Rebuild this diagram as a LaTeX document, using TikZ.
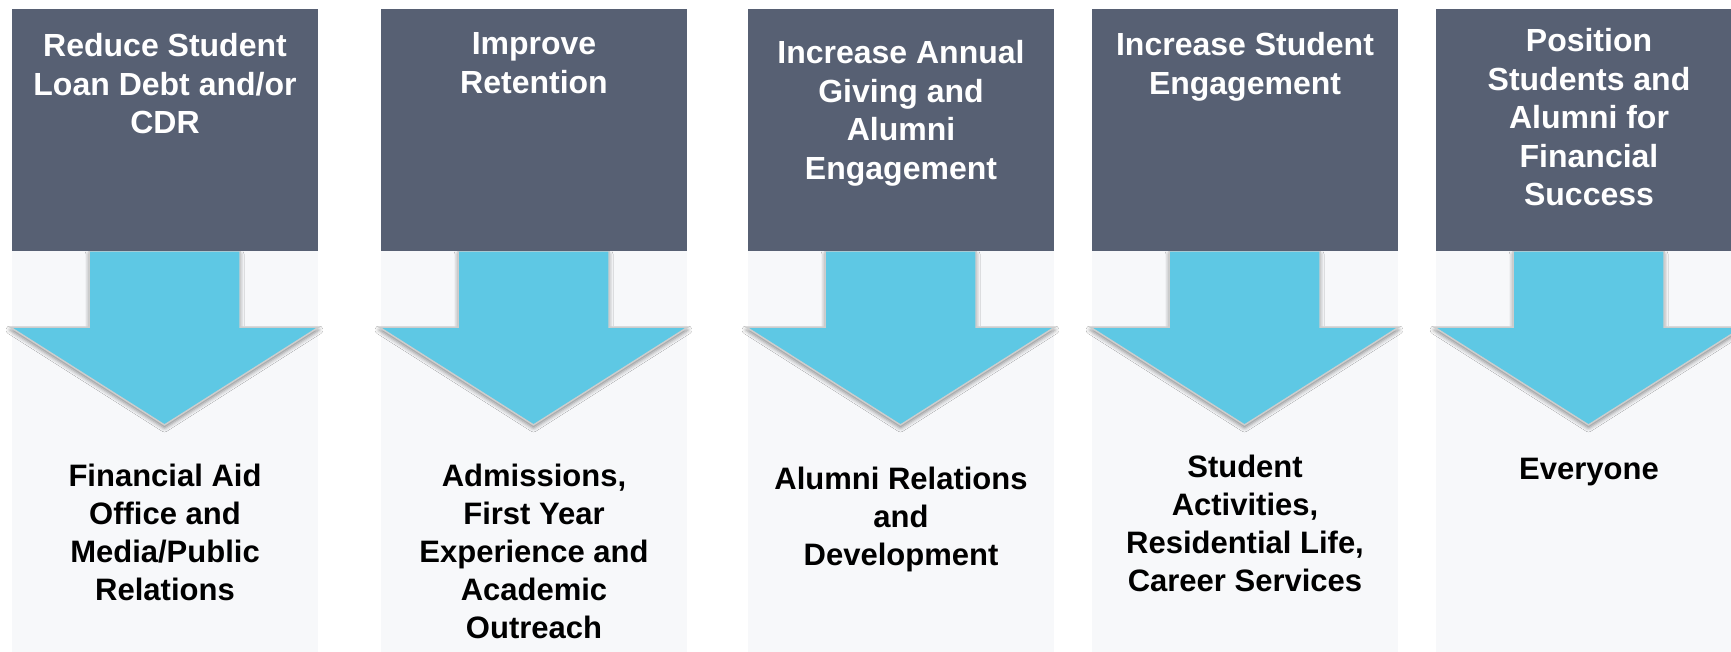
\documentclass[tikz,border=0pt]{standalone}
\usepackage{fontspec}
\setmainfont{Liberation Sans}
\usetikzlibrary{shadows.blur}

\definecolor{headslate}{RGB}{87,96,115}
\definecolor{arrowcyan}{RGB}{94,200,228}
\definecolor{panelgrey}{RGB}{247,248,250}
\definecolor{edgegrey}{RGB}{205,205,205}

\tikzset{
  panel/.style={fill=panelgrey, draw=none},
  header/.style={fill=headslate, draw=none, inner sep=0pt, outer sep=0pt,
    anchor=north west, minimum width=306pt, minimum height=242pt},
  title/.style={text=white, font=\fontsize{32}{38.5}\selectfont\bfseries,
    align=center, inner sep=0pt, anchor=north},
  owner/.style={text=black, font=\fontsize{31}{38}\selectfont\bfseries,
    align=center, inner sep=0pt, anchor=north},
  downarrow/.style={fill=arrowcyan, draw=edgegrey, line width=1.5pt,
    line join=miter,
    blur shadow={shadow xshift=0pt, shadow yshift=-3pt,
      shadow blur radius=4pt, shadow opacity=45}}
}

% #1 left edge, #2 name, #3 goal, #4 goal top, #5 owners, #6 owners top
\newcommand\stagecolumn[6]{%
  \path[panel] (#1,251) rectangle ({#1+306},652);
  \draw[downarrow] ({#1+77},251) -- ({#1+77},327) -- ({#1-2},327)
    -- ({#1+152.5},425) -- ({#1+307},327) -- ({#1+228},327)
    -- ({#1+228},251) -- cycle;
  \node[header] (#2-head) at (#1,9) {};
  \node[title] (#2-title) at ({#1+153},#4) {#3};
  \node[owner] (#2-owner) at ({#1+153},#6) {#5};
}

\begin{document}
\begin{tikzpicture}[x=1pt, y=-1pt]
  \useasboundingbox (0,0) rectangle (1731,652);
  \clip (0,0) rectangle (1731,652);
  \fill[white] (0,0) rectangle (1731,652);

  \stagecolumn{12}{debt}{Reduce Student\\Loan Debt and/or\\CDR}{33.5}
    {Financial Aid\\Office and\\Media/Public\\Relations}{464}
  \stagecolumn{381}{retention}{Improve\\Retention}{32.5}
    {Admissions,\\First Year\\Experience and\\Academic\\Outreach}{464}
  \stagecolumn{748}{giving}{Increase Annual\\Giving and\\Alumni\\Engagement}{40.5}
    {Alumni Relations\\and\\Development}{467}
  \stagecolumn{1092}{engage}{Increase Student\\Engagement}{32.5}
    {Student\\Activities,\\Residential Life,\\Career Services}{455}
  \stagecolumn{1436}{finance}{Position\\Students and\\Alumni for\\Financial\\Success}{28.5}
    {Everyone}{458}
\end{tikzpicture}
\end{document}
